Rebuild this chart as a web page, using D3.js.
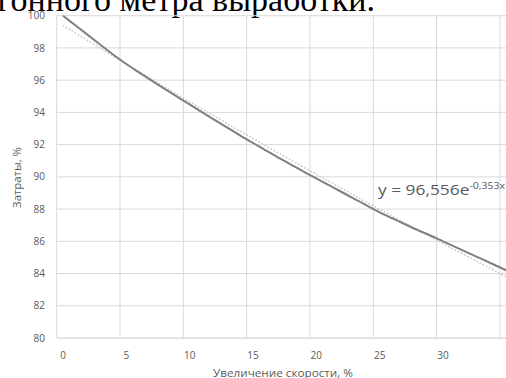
<!doctype html>
<html>
<head>
<meta charset="utf-8">
<script src="https://d3js.org/d3.v7.min.js"></script>
<style>
    body { margin: 0; background: #fff; }
    svg { display: block; }
    .tick-label { font-family: "Open Sans", sans-serif; font-size: 10px; fill: #595959; }
</style>
</head>
<body>
<svg width="506" height="378"></svg>
<script>
    // data
    var speed = d3.range(0, 36);
    var cost = [100.0, 99.39, 98.78, 98.17, 97.56, 97.0, 96.48, 95.97, 95.47, 94.98,
                94.5, 94.0, 93.52, 93.04, 92.56, 92.1, 91.65, 91.2, 90.76, 90.32,
                89.9, 89.48, 89.06, 88.64, 88.22, 87.8, 87.43, 87.06, 86.7, 86.36,
                86.0, 85.64, 85.28, 84.92, 84.56, 84.2];
    var trendX = [0, 5, 10, 15, 20, 25, 30, 35];
    var trendY = [99.4, 97.0, 94.66, 92.38, 90.16, 87.98, 85.86, 83.8];
    var xTicks = [0, 5, 10, 15, 20, 25, 30];
    var yTicks = [80, 82, 84, 86, 88, 90, 92, 94, 96, 98, 100];

    var svg = d3.select("svg");

    var x = d3.scaleLinear().domain([0, 35]).range([63, 506.3]);
    var y = d3.scaleLinear().domain([80, 100]).range([338, 15.7]);

    // cut-off line of text above the chart
    svg.append("text")
       .attr("x", 375)
       .attr("y", 10.5)
       .attr("text-anchor", "end")
       .attr("font-family", "Liberation Serif, serif")
       .attr("font-size", "34px")
       .attr("fill", "#000")
       .text("погонного метра выработки.");

    var g = svg.append("g");

    // horizontal grid
    g.selectAll(".hgrid")
     .data(yTicks)
     .enter().append("line")
     .attr("x1", x(-0.5)).attr("x2", 506)
     .attr("y1", function(d) { return y(d); })
     .attr("y2", function(d) { return y(d); })
     .attr("stroke", function(d) { return d == 80 ? "#c8c8c8" : "#d9d9d9"; })
     .attr("stroke-width", 1);

    // vertical grid, between categories
    g.selectAll(".vgrid")
     .data([0, 5, 10, 15, 20, 25, 30, 35])
     .enter().append("line")
     .attr("x1", function(d) { return x(d - 0.5); })
     .attr("x2", function(d) { return x(d - 0.5); })
     .attr("y1", y(100)).attr("y2", y(80))
     .attr("stroke", "#d9d9d9")
     .attr("stroke-width", 1);

    // y labels
    g.selectAll(".ylab")
     .data(yTicks)
     .enter().append("text")
     .attr("class", "tick-label")
     .attr("x", 45)
     .attr("y", function(d) { return y(d) + 3.6; })
     .attr("text-anchor", "end")
     .text(function(d) { return d; });

    // x labels
    g.selectAll(".xlab")
     .data(xTicks)
     .enter().append("text")
     .attr("class", "tick-label")
     .attr("x", function(d) { return x(d); })
     .attr("y", 359)
     .attr("text-anchor", "middle")
     .text(function(d) { return d; });

    // axis titles
    svg.append("text")
       .attr("class", "tick-label")
       .attr("transform", "translate(21,177.5) rotate(-90)")
       .attr("text-anchor", "middle")
       .attr("font-size", "11px")
       .attr("textLength", 61)
       .attr("lengthAdjust", "spacingAndGlyphs")
       .text("Затраты, %");

    svg.append("text")
       .attr("class", "tick-label")
       .attr("x", 283)
       .attr("y", 376.5)
       .attr("text-anchor", "middle")
       .attr("font-size", "11px")
       .attr("textLength", 140)
       .attr("lengthAdjust", "spacingAndGlyphs")
       .text("Увеличение скорости, %");

    // trend line (dotted)
    var trend = trendX.map(function(d, i) { return [d, trendY[i]]; });
    g.append("path")
     .datum(trend)
     .attr("fill", "none")
     .attr("stroke", "#c4c4c4")
     .attr("stroke-width", 1.5)
     .attr("stroke-dasharray", "1.5,2")
     .attr("d", d3.line()
         .curve(d3.curveCatmullRom)
         .x(function(d) { return x(d[0]); })
         .y(function(d) { return y(d[1]); }));

    // data line
    var pts = speed.map(function(d, i) { return [d, cost[i]]; });
    g.append("path")
     .datum(pts)
     .attr("fill", "none")
     .attr("stroke", "#808080")
     .attr("stroke-width", 2)
     .attr("d", d3.line()
         .curve(d3.curveMonotoneX)
         .x(function(d) { return x(d[0]); })
         .y(function(d) { return y(d[1]); }));

    // equation label
    var eq = svg.append("text")
       .attr("transform", "translate(378,195) scale(1.24,1)")
       .attr("font-family", "Open Sans, sans-serif")
       .attr("font-size", "14px")
       .attr("fill", "#595959");
    eq.append("tspan").text("y = 96,556e");
    eq.append("tspan")
      .attr("dy", -6)
      .attr("font-size", "8.5px")
      .text("-0,353x");
</script>
</body>
</html>
